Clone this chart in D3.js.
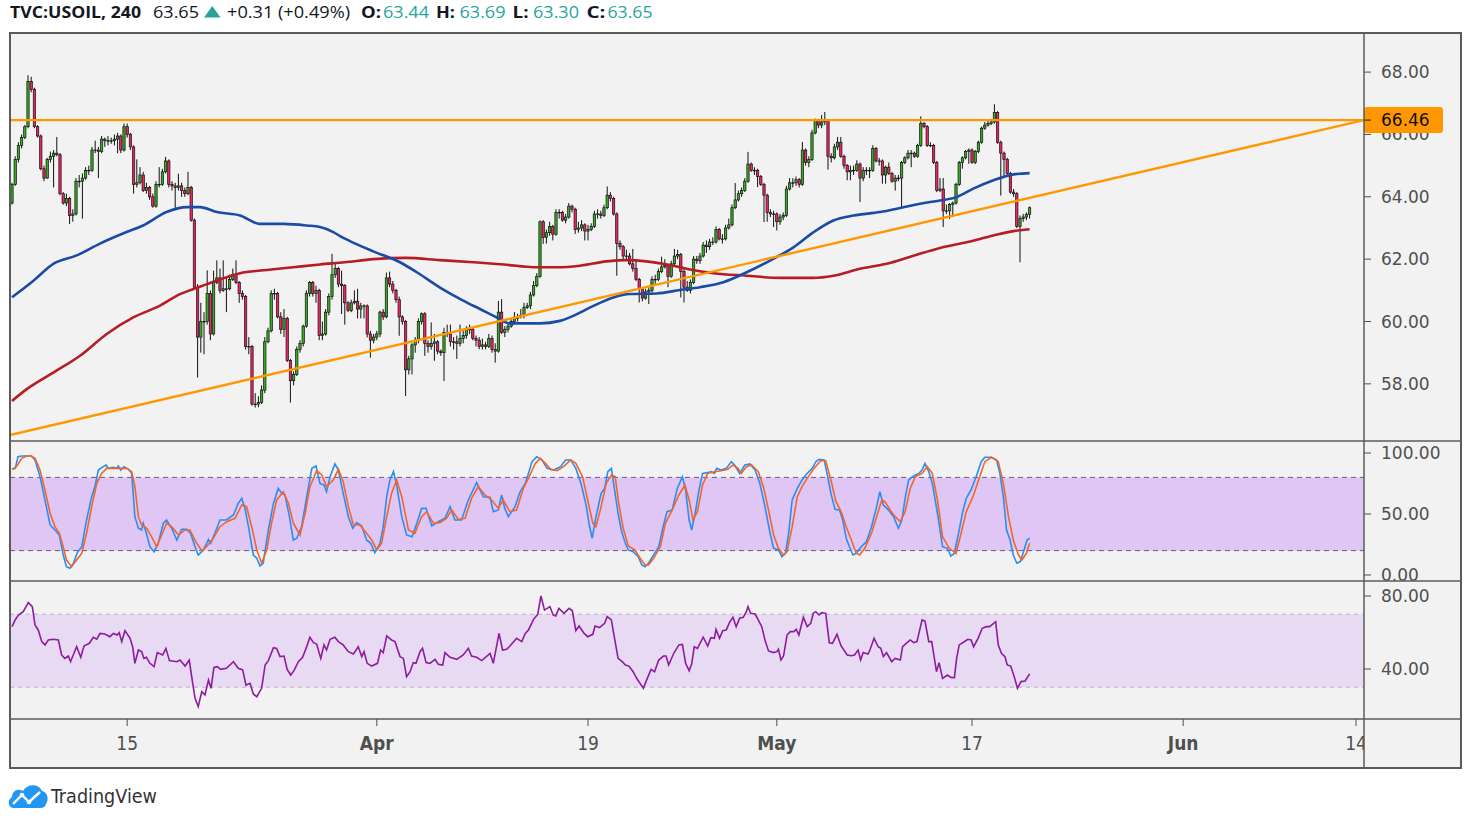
<!DOCTYPE html>
<html lang="en">
<head>
<meta charset="UTF-8">
<title>TVC:USOIL, 240</title>
<script src="https://d3js.org/d3.v7.min.js"></script>
<style>
  body { margin: 0; background: #fff; }
  svg { display: block; }
</style>
</head>
<body>
<div id="chart"></div>
<script>
// ---- data (bar index = 4h bar, 0 = first visible bar) ----
const opens = [
  63.8, 64.4, 65.2, 65.65, 65.9, 66.25, 67.7, 67.45, 66.25, 65.95,
  64.9, 64.6, 65.2, 65.3, 65.4, 65.35, 64.1, 63.8, 63.95, 63.4,
  63.45, 64.5, 64.5, 64.6, 64.85, 64.85, 65.5, 65.5, 65.45, 65.85,
  65.8, 65.8, 65.8, 65.85, 65.95, 65.5, 66.25, 66.0, 65.6, 64.4,
  64.45, 64.7, 64.2, 64.3, 64.0, 63.7, 64.4, 64.4, 64.8, 65.15,
  64.4, 64.35, 64.3, 64.35, 64.2, 64.1, 64.3, 63.25, 61.1, 59.5,
  60.0, 60.0, 60.9, 59.6, 61.25, 61.4, 61.0, 61.05, 61.05, 61.35,
  61.5, 61.25, 60.9, 60.8, 59.2, 59.2, 57.35, 57.35, 57.4, 57.8,
  59.35, 59.7, 60.9, 60.9, 60.15, 59.75, 60.1, 58.75, 58.1, 58.3,
  59.1, 59.3, 59.85, 60.9, 61.25, 60.9, 61.0, 59.55, 59.6, 60.3,
  60.8, 61.5, 61.7, 61.2, 61.15, 60.6, 60.35, 60.6, 60.65, 60.4,
  60.5, 60.5, 59.6, 59.4, 59.5, 59.6, 60.3, 60.15, 61.4, 61.2,
  61.0, 60.7, 60.15, 60.0, 58.45, 58.8, 59.25, 59.4, 60.0, 60.25,
  59.3, 59.2, 59.3, 59.35, 59.05, 59.0, 59.65, 59.6, 59.35, 59.35,
  59.3, 59.45, 59.55, 59.75, 59.75, 59.45, 59.4, 59.2, 59.25, 59.2,
  59.45, 59.1, 59.05, 60.3, 59.65, 59.75, 59.85, 60.0, 60.1, 60.15,
  60.2, 60.45, 60.5, 60.85, 61.15, 61.45, 63.2, 62.7, 62.85, 63.05,
  62.8, 63.5, 63.5, 63.25, 63.35, 63.7, 63.6, 62.95, 63.0, 63.1,
  62.9, 62.95, 63.05, 63.45, 63.45, 63.4, 63.65, 64.05, 63.95, 63.45,
  62.5, 62.4, 62.1, 62.1, 61.85, 61.7, 61.35, 61.05, 60.75, 60.95,
  61.0, 61.35, 61.35, 61.6, 61.75, 61.8, 61.45, 61.85, 62.1, 62.15,
  61.6, 61.1, 61.0, 61.25, 62.0, 61.95, 62.1, 62.45, 62.4, 62.55,
  62.55, 62.95, 62.65, 62.65, 63.0, 63.1, 63.65, 63.9, 64.1, 64.2,
  64.5, 65.05, 64.85, 64.85, 64.65, 64.4, 64.05, 63.5, 63.45, 63.45,
  63.2, 63.35, 63.4, 64.25, 64.45, 64.45, 64.55, 64.4, 65.5, 65.1,
  65.2, 66.05, 66.45, 66.3, 66.4, 66.45, 65.3, 65.25, 65.6, 65.75,
  65.3, 65.0, 64.8, 64.85, 64.85, 65.05, 64.6, 64.85, 64.85, 64.85,
  65.55, 65.15, 65.15, 64.7, 64.95, 64.75, 64.5, 64.6, 64.6, 65.1,
  65.25, 65.4, 65.4, 65.3, 65.65, 66.35, 66.25, 65.65, 65.65, 65.1,
  64.2, 64.25, 63.55, 63.55, 63.75, 63.8, 64.4, 65.1, 65.25, 65.45,
  65.5, 65.1, 65.45, 65.75, 66.2, 66.3, 66.35, 66.4, 66.7, 65.75,
  65.4, 65.2, 64.75, 64.15, 64.1, 63.05, 63.3, 63.35, 63.44
];
const highs = [
  64.45, 65.3, 65.75, 66.0, 66.3, 67.9, 67.85, 67.5, 66.3, 66.0,
  65.0, 65.25, 65.45, 65.5, 65.92, 65.4, 64.15, 64.1, 64.0, 63.6,
  64.6, 64.7, 64.75, 64.95, 65.0, 65.6, 65.8, 65.6, 65.95, 65.9,
  65.95, 65.9, 66.0, 66.05, 66.0, 66.35, 66.35, 66.05, 65.65, 65.2,
  64.95, 64.8, 64.45, 64.35, 64.1, 64.5, 64.95, 64.9, 65.28, 65.2,
  64.5, 64.45, 64.74, 64.45, 64.3, 64.8, 64.35, 63.3, 61.2, 60.6,
  60.3, 61.64, 61.0, 61.63, 61.96, 61.7, 61.96, 61.4, 61.5, 61.7,
  61.96, 61.3, 61.0, 60.85, 59.5, 59.25, 57.7, 57.6, 57.95, 59.5,
  59.8, 61.0, 61.05, 60.95, 60.3, 60.4, 60.15, 58.8, 58.4, 59.2,
  59.4, 59.9, 61.0, 61.3, 61.3, 61.15, 61.05, 60.0, 60.4, 60.9,
  62.17, 61.85, 61.75, 61.63, 61.2, 60.65, 60.7, 61.0, 61.05, 60.6,
  60.55, 60.55, 59.7, 59.6, 59.7, 60.35, 60.4, 61.57, 61.6, 61.3,
  61.05, 60.8, 60.2, 60.05, 58.9, 59.3, 59.5, 60.1, 60.29, 60.3,
  59.4, 59.97, 59.6, 59.4, 59.1, 59.8, 59.9, 59.9, 59.5, 59.55,
  59.9, 59.7, 59.85, 59.9, 59.8, 59.55, 59.5, 59.45, 59.35, 59.6,
  59.55, 59.3, 60.66, 60.72, 59.85, 59.95, 60.1, 60.3, 60.25, 60.4,
  60.6, 60.6, 60.95, 61.3, 61.55, 63.24, 63.25, 62.95, 63.2, 63.1,
  63.6, 63.6, 63.55, 63.45, 63.8, 63.75, 63.65, 63.2, 63.25, 63.15,
  63.1, 63.15, 63.55, 63.6, 63.55, 63.75, 64.33, 64.15, 64.0, 63.5,
  62.6, 62.45, 62.3, 62.2, 62.33, 62.0, 61.4, 61.1, 61.05, 61.1,
  61.45, 61.5, 61.7, 62.08, 62.0, 61.85, 61.95, 62.33, 62.3, 62.2,
  61.7, 61.3, 61.35, 62.1, 62.1, 62.2, 62.55, 62.6, 62.65, 62.7,
  63.05, 63.0, 62.8, 63.1, 63.3, 63.75, 64.44, 64.2, 64.3, 64.6,
  65.44, 65.1, 64.95, 64.9, 64.7, 64.45, 64.1, 63.6, 63.55, 63.5,
  63.45, 63.5, 64.35, 64.6, 64.6, 64.65, 64.6, 65.76, 65.55, 65.3,
  66.15, 66.51, 66.5, 66.62, 66.72, 66.5, 65.4, 65.7, 65.92, 65.92,
  65.35, 65.05, 65.0, 65.0, 65.17, 65.1, 64.95, 64.95, 64.95, 65.65,
  65.6, 65.25, 65.2, 65.0, 65.1, 64.8, 64.7, 64.7, 65.15, 65.3,
  65.5, 65.5, 65.45, 65.7, 66.58, 66.4, 66.3, 65.75, 65.7, 65.15,
  64.6, 64.6, 63.75, 63.8, 63.85, 64.45, 65.15, 65.3, 65.5, 65.55,
  65.55, 65.5, 65.8, 66.25, 66.4, 66.45, 66.5, 66.97, 66.75, 65.8,
  65.45, 65.25, 64.8, 64.25, 64.15, 63.4, 63.45, 63.5, 63.69
];
const lows = [
  63.75, 64.35, 65.1, 65.55, 65.85, 66.2, 67.35, 66.2, 65.9, 64.85,
  64.5, 64.58, 65.1, 64.3, 65.3, 64.05, 63.75, 63.7, 63.13, 63.2,
  63.4, 64.3, 63.3, 64.55, 64.7, 64.8, 65.4, 64.6, 65.4, 65.6,
  65.65, 65.7, 65.65, 65.4, 65.4, 65.45, 65.9, 65.5, 64.1, 64.3,
  64.4, 64.15, 64.1, 63.9, 63.65, 63.65, 64.3, 64.35, 64.75, 64.3,
  64.2, 63.62, 64.2, 64.0, 64.0, 64.05, 63.2, 61.05, 58.2, 59.0,
  58.95, 59.9, 59.4, 59.55, 61.2, 60.9, 60.95, 60.3, 61.0, 61.3,
  61.2, 60.6, 60.7, 59.1, 58.95, 57.3, 57.24, 57.25, 57.35, 57.7,
  59.3, 59.65, 60.7, 60.1, 59.6, 59.5, 58.7, 57.4, 57.95, 58.25,
  59.0, 59.2, 59.8, 60.8, 60.8, 60.6, 59.4, 59.4, 59.55, 60.2,
  60.7, 61.4, 61.1, 60.24, 59.9, 60.3, 60.3, 60.55, 60.1, 60.1,
  60.1, 59.49, 58.84, 59.3, 59.4, 59.5, 60.05, 60.1, 61.1, 60.9,
  60.6, 59.54, 59.9, 57.61, 58.3, 58.3, 59.0, 59.3, 59.9, 58.9,
  59.0, 59.1, 58.74, 58.95, 58.9, 58.09, 59.5, 59.2, 59.1, 58.8,
  59.2, 59.3, 59.45, 59.6, 59.4, 59.2, 59.11, 59.1, 59.11, 59.15,
  59.0, 58.68, 59.0, 59.6, 59.5, 59.65, 59.8, 59.9, 60.0, 60.1,
  60.1, 60.4, 60.4, 60.8, 61.1, 61.4, 62.49, 62.5, 62.75, 62.6,
  62.75, 63.3, 63.2, 63.15, 63.3, 63.5, 62.81, 62.85, 62.9, 62.6,
  62.6, 62.9, 63.0, 63.3, 63.3, 63.35, 63.6, 63.85, 63.4, 61.47,
  62.3, 62.0, 61.95, 61.8, 61.6, 61.3, 60.61, 60.65, 60.7, 60.56,
  60.9, 61.2, 61.3, 61.55, 61.7, 61.1, 61.4, 61.8, 62.0, 60.77,
  60.61, 60.95, 60.9, 61.2, 61.85, 61.85, 62.05, 62.2, 62.3, 62.45,
  62.5, 62.6, 62.5, 62.6, 62.95, 63.05, 63.6, 63.85, 64.0, 64.15,
  64.45, 64.8, 64.7, 64.31, 64.35, 63.19, 63.2, 63.35, 63.03, 62.92,
  63.1, 63.25, 63.35, 64.2, 64.3, 64.35, 64.3, 64.35, 65.0, 64.95,
  65.15, 66.0, 66.2, 66.2, 66.3, 64.87, 65.1, 65.2, 65.5, 65.25,
  64.9, 64.53, 64.53, 64.7, 64.8, 63.83, 64.5, 64.7, 64.6, 64.8,
  65.1, 65.0, 64.42, 64.42, 64.7, 64.45, 64.2, 64.5, 63.62, 65.05,
  65.2, 64.95, 65.25, 65.25, 65.6, 66.2, 65.6, 65.6, 65.05, 64.15,
  64.15, 63.03, 63.45, 63.29, 63.35, 63.75, 64.35, 64.9, 65.2, 65.06,
  65.06, 65.05, 65.4, 65.7, 66.15, 66.25, 66.3, 66.35, 65.7, 64.04,
  64.63, 64.7, 64.1, 64.0, 63.0, 61.9, 63.2, 63.25, 63.3
];
const closes = [
  64.4, 65.2, 65.65, 65.9, 66.25, 67.7, 67.45, 66.25, 65.95, 64.9,
  64.6, 65.2, 65.3, 65.4, 65.35, 64.1, 63.8, 63.95, 63.4, 63.45,
  64.5, 64.5, 64.6, 64.85, 64.85, 65.5, 65.5, 65.45, 65.85, 65.8,
  65.8, 65.8, 65.85, 65.95, 65.5, 66.25, 66.0, 65.6, 64.4, 64.45,
  64.7, 64.2, 64.3, 64.0, 63.7, 64.4, 64.4, 64.8, 65.15, 64.4,
  64.35, 64.3, 64.35, 64.2, 64.1, 64.3, 63.25, 61.1, 59.5, 60.0,
  60.0, 60.9, 59.6, 61.25, 61.4, 61.0, 61.05, 61.05, 61.35, 61.5,
  61.25, 60.9, 60.8, 59.2, 59.2, 57.35, 57.35, 57.4, 57.8, 59.35,
  59.7, 60.9, 60.9, 60.15, 59.75, 60.1, 58.75, 58.1, 58.3, 59.1,
  59.3, 59.85, 60.9, 61.25, 60.9, 61.0, 59.55, 59.6, 60.3, 60.8,
  61.5, 61.7, 61.2, 61.15, 60.6, 60.35, 60.6, 60.65, 60.4, 60.5,
  60.5, 59.6, 59.4, 59.5, 59.6, 60.3, 60.15, 61.4, 61.2, 61.0,
  60.7, 60.15, 60.0, 58.45, 58.8, 59.25, 59.4, 60.0, 60.25, 59.3,
  59.2, 59.3, 59.35, 59.05, 59.0, 59.65, 59.6, 59.35, 59.35, 59.3,
  59.45, 59.55, 59.75, 59.75, 59.45, 59.4, 59.2, 59.25, 59.2, 59.45,
  59.1, 59.05, 60.3, 59.65, 59.75, 59.85, 60.0, 60.1, 60.15, 60.2,
  60.45, 60.5, 60.85, 61.15, 61.45, 63.2, 62.7, 62.85, 63.05, 62.8,
  63.5, 63.5, 63.25, 63.35, 63.7, 63.6, 62.95, 63.0, 63.1, 62.9,
  62.95, 63.05, 63.45, 63.45, 63.4, 63.65, 64.05, 63.95, 63.45, 62.5,
  62.4, 62.1, 62.1, 61.85, 61.7, 61.35, 61.05, 60.75, 60.95, 61.0,
  61.35, 61.35, 61.6, 61.75, 61.8, 61.45, 61.85, 62.1, 62.15, 61.6,
  61.1, 61.0, 61.25, 62.0, 61.95, 62.1, 62.45, 62.4, 62.55, 62.55,
  62.95, 62.65, 62.65, 63.0, 63.1, 63.65, 63.9, 64.1, 64.2, 64.5,
  65.05, 64.85, 64.85, 64.65, 64.4, 64.05, 63.5, 63.45, 63.45, 63.2,
  63.35, 63.4, 64.25, 64.45, 64.45, 64.55, 64.4, 65.5, 65.1, 65.2,
  66.05, 66.45, 66.3, 66.4, 66.45, 65.3, 65.25, 65.6, 65.75, 65.3,
  65.0, 64.8, 64.85, 64.85, 65.05, 64.6, 64.85, 64.85, 64.85, 65.55,
  65.15, 65.15, 64.7, 64.95, 64.75, 64.5, 64.6, 64.6, 65.1, 65.25,
  65.4, 65.4, 65.3, 65.65, 66.35, 66.25, 65.65, 65.65, 65.1, 64.2,
  64.25, 63.55, 63.55, 63.75, 63.8, 64.4, 65.1, 65.25, 65.45, 65.5,
  65.1, 65.45, 65.75, 66.2, 66.3, 66.35, 66.4, 66.7, 65.75, 65.4,
  65.2, 64.75, 64.15, 64.1, 63.05, 63.3, 63.35, 63.44, 63.65
];

// moving averages, [bar, price]
const maBlue = [
  [0, 60.78], [6.7, 61.31], [12.9, 61.85], [20.2, 62.12], [27.5, 62.5], [35.8, 62.87],
  [41, 63.08], [48.3, 63.51], [54.6, 63.67], [58.75, 63.67], [64, 63.51], [71.25, 63.4],
  [77.5, 63.13], [84.8, 63.13], [92.1, 63.08], [96.25, 63.03], [100.4, 62.87], [102.5, 62.74],
  [105.6, 62.58], [112.9, 62.25], [121.25, 61.9], [126.5, 61.58], [133.75, 61.09], [141, 60.67],
  [146.25, 60.4], [151.5, 60.13], [155.6, 59.94], [165, 59.94], [171.25, 60.02], [175.4, 60.18],
  [181.7, 60.5], [187.9, 60.77], [193.1, 60.88], [201.5, 60.9], [208.75, 61.01], [215, 61.1],
  [222.3, 61.26], [229.6, 61.58], [237.9, 62.01], [244.2, 62.38], [250.4, 62.86], [256.7, 63.24],
  [263, 63.4], [271.25, 63.51], [277.5, 63.64], [283.75, 63.78], [290, 63.88], [295.2, 63.99],
  [300.4, 64.26], [306.7, 64.53], [313, 64.72], [318, 64.76]
];
const maRed = [
  [0, 57.45], [4.6, 57.83], [12.9, 58.36], [21.25, 58.9], [29.6, 59.6], [37.9, 60.13],
  [46.25, 60.51], [52.5, 60.88], [56.7, 61.04], [63.9, 61.31], [71.25, 61.55], [79.6, 61.65],
  [87.9, 61.74], [96.25, 61.83], [104, 61.9], [112.9, 62.0], [123.3, 62.04], [133.75, 61.97],
  [144.2, 61.9], [154.6, 61.82], [163, 61.74], [170.2, 61.74], [177.5, 61.79], [185.8, 61.93],
  [192, 61.97], [198.3, 61.93], [206.7, 61.79], [211.9, 61.67], [219.2, 61.55], [229.6, 61.47],
  [240, 61.4], [250.4, 61.4], [256.7, 61.47], [265, 61.69], [273.3, 61.85], [281.7, 62.11],
  [290, 62.36], [298.3, 62.54], [306.7, 62.76], [313, 62.9], [318, 62.96]
];

// drawn lines: horizontal resistance and rising trendline [bar, price]
const levelPrice = 66.46;
const trendPts = [[-0.625, 56.36], [422.5, 66.46]];

// stochastic RSI %K and %D, [bar, value]
const stochK = [
  [0,86.6],[1,87.4],[1.9,97],[3,97.5],[4.5,97.5],[6,97.5],[7.2,94.3],[8.75,80.6],[10.3,61.5],[11.9,41],
  [13.4,36.9],[14.8,32.8],[16,16.4],[17,6.8],[18.1,5.5],[19.2,9.6],[20.4,18.3],[21.8,23.2],[23.3,45.1],[24.9,64.2],
  [25.9,72.4],[27,86],[28.5,88.8],[29.4,90.2],[30.1,87.4],[31.7,88.3],[32.7,87.4],[33.2,89.3],[34,86],[35,88.8],
  [36.4,86.6],[37.4,83.3],[38.4,47.8],[39.5,38.3],[40.5,36.9],[41,42.4],[42,34.2],[43.1,23.2],[44.4,19.1],[45.7,26],
  [47.3,42.4],[48.3,45.1],[49.9,38.3],[51.5,28.7],[53,37.4],[54.6,37.4],[55.8,34.2],[57.2,23.2],[58.2,16.4],[59.8,20.5],
  [61.4,29.2],[62.1,26],[63.4,34.2],[65,45.1],[67,45.1],[69.2,49.2],[70.7,58.7],[71.8,62.8],[72.8,54.6],[73.9,39.6],
  [75.4,16.4],[76.5,13.7],[77.5,7.4],[78.5,9.6],[80.1,36.9],[81.7,58.7],[83.2,71],[84.3,66.9],[85.3,65.6],[86.7,47.8],
  [87.9,28.7],[89,30.1],[90.5,39.6],[92.1,64.2],[93.7,87.4],[95,89.3],[96.25,75.1],[97.5,73.8],[98.3,68.3],[99.4,80.6],
  [100.9,91],[102,86],[103.5,66.9],[105.1,47.8],[106.5,38.3],[107.7,42.9],[109.3,40.2],[110.8,28.7],[112.1,26],[113.4,18.3],
  [115,26],[116,39.6],[117.1,64.2],[118.1,77.9],[119.2,84.7],[120.2,73.8],[121.8,47.8],[123.3,32.8],[125,31.4],[126.5,42.4],
  [128,54.6],[129.4,54.6],[131.2,40.2],[133.2,43.7],[135.3,46.5],[136.9,56],[138.4,45.1],[140.5,45.1],[142.6,61.5],[145.2,75.7],
  [147.3,64.2],[149.4,63.7],[150.4,51.9],[152,53.3],[153,65.6],[154,54.6],[155.1,47.8],[157.2,56],[158.8,68.3],[160.4,75.1],
  [161.4,83.3],[162.5,92.9],[164,97],[165.6,94.3],[167.2,87.4],[169.3,86],[171.4,88.8],[173,94.3],[174.6,94.3],[176.2,87.4],
  [177.8,75.1],[179.4,57.4],[180.4,41],[181.3,30.1],[182.5,47.8],[184.1,66.9],[185.2,71],[186.2,84.7],[187.3,87.4],[188.3,69.7],
  [189.4,50.6],[190.4,36.9],[191.5,27.3],[192.6,20.5],[194.1,19.1],[195.7,15],[196.8,8.2],[197.8,6.8],[198.9,9.6],[200.5,16.4],
  [202.1,23.2],[203.6,41],[204.7,51.9],[206.3,53.3],[207.9,71],[209.5,80.6],[210.5,69.7],[211.6,45.1],[212.4,36.9],[213.5,50.6],
  [214.7,69.7],[215.8,83.3],[217.4,83.9],[218.4,84.7],[219.5,83.3],[220.2,87.4],[221.6,86],[223.2,87.4],[224.8,92.9],[225.8,90.2],
  [227.4,83.3],[229,90.2],[230.6,91],[232.2,86],[233.7,75.1],[235.3,56],[236.9,34.2],[238,21.9],[239.5,20.5],[240.6,15],
  [241.7,17.8],[242.7,34.2],[243.8,61.5],[245.4,71],[246.9,77.9],[248.5,83.3],[250.1,87.4],[251.2,92.9],[252.2,94.8],[253.8,94.3],
  [254.9,80.6],[255.9,66.9],[257.2,53.8],[258.6,53.3],[259.6,45.1],[260.7,30.1],[261.7,23.2],[262.8,16.4],[263.8,17.8],[265.4,23.2],
  [267,27.3],[268.6,39.6],[270.2,56],[271.2,68.3],[272.3,57.4],[273.9,53.3],[275.5,47.8],[277,38.3],[278.1,45.1],[279.1,62.8],
  [280.2,77.9],[281.8,81.2],[283.4,83.3],[284.4,86],[285.3,91.5],[286.5,84.7],[287.6,75.1],[289.2,50.6],[290.8,23.2],[292.3,21.9],
  [293.4,15.6],[294.5,17.8],[296,36.9],[297.1,51.9],[298.2,62.8],[299.7,69.7],[301.3,80.6],[302.9,92.9],[304,96.5],[306.1,96.5],
  [307.7,94.3],[308.7,83.3],[309.8,64.2],[310.8,36.9],[311.9,28.7],[312.9,16.4],[314,9.6],[315.1,11],[316.1,19.1],[317.2,28.7],
  [318,30.1]
];
const stochD = [
  [0,86.6],[1.4,88.8],[3,95.6],[4.6,97.5],[6.1,97.5],[7.2,95.6],[8.75,86],[10.3,69.7],[11.9,50.6],[13.4,39.6],
  [14.8,34.2],[16,23.2],[17,12.3],[18.6,6.8],[20.2,12.3],[21.8,17.8],[23.3,34.2],[24.9,56],[26.5,75.1],[28,83.3],
  [29.6,87.4],[31.7,87.4],[33.8,87.4],[35.8,87.4],[37.4,84.7],[38.4,72.4],[39.5,47.8],[40.5,41],[42.1,38.3],[43.6,31.4],
  [45.2,23.2],[46.8,32.8],[48.3,42.4],[49.9,39.6],[52,32.8],[54.1,36.9],[55.6,36.9],[57.7,26],[59.3,20],[60.8,23.2],
  [62.9,30.1],[65,39.6],[67.1,43.7],[69.7,46.5],[71.8,57.4],[73.3,56],[74.9,39.6],[76.5,20.5],[78,9.6],[79.6,20.5],
  [81.1,42.4],[82.7,61.5],[84.8,68.3],[86.4,58.7],[87.9,42.4],[90,32.8],[91.6,50.6],[93.1,72.4],[95.2,85.4],[96.8,82],
  [98.3,72.4],[100.4,77.9],[102,86.6],[103.5,76.5],[105.1,56],[106.7,41],[108.75,41],[110.8,34.2],[112.4,28.7],[114,20.5],
  [115.5,26],[117.1,47.8],[118.6,66.9],[120.2,77.9],[121.8,64.2],[123.9,36.9],[125.9,34.2],[128,47.8],[129.6,51.9],[131.7,42.4],
  [133.75,42.9],[135.8,46.5],[137.4,53.3],[139.5,45.6],[141.6,46.5],[143.6,62.8],[145.7,72.4],[147.8,65.6],[149.9,61.5],[152,54.6],
  [153.5,61.5],[155.6,51.9],[157.7,53.3],[159.8,71],[161.9,82],[163.5,91.5],[165.1,95.6],[166.7,91.5],[168.3,86.6],[170.4,85.5],
  [172.5,89.3],[174.6,94.3],[176.2,91.5],[178.3,80.6],[179.9,61.5],[181.5,42.4],[182.5,39.6],[184.1,56],[185.7,75.1],[187.3,82],
  [188.5,80.6],[189.6,58.7],[191,38.3],[192.6,23.8],[194.7,20.5],[196.3,13.7],[197.8,8.2],[198.9,8.2],[200.5,13.7],[202.6,23.2],
  [204.2,42.4],[206.3,53.3],[208.4,65.6],[210.3,73.8],[211.6,61.5],[212.8,45.1],[214.2,51.9],[215.8,73.8],[217.4,83.3],[219.5,84.7],
  [221.6,85.5],[223.7,86.6],[225.3,90.2],[226.9,87.4],[227.9,83.3],[229.5,88.8],[231.1,90.2],[233.2,84.7],[234.8,72.4],[236.4,53.3],
  [238,32.8],[239.5,21.9],[241.1,16.4],[242.2,19.1],[243.8,39.6],[245.4,64.2],[246.9,72.4],[248.5,79.2],[250.6,87.4],[252.7,93.7],
  [254.3,93.7],[255.9,77.9],[257.5,60.1],[259.1,51.9],[260.7,39.6],[262.3,28.7],[263.8,17.8],[264.9,16.4],[266.5,21.9],[268.6,34.2],
  [270.2,47.8],[271.8,61.5],[272.8,60.1],[274.4,53.3],[276,47.8],[277.6,43.7],[279.1,51.9],[280.7,71],[282.3,80.6],[284.4,83.3],
  [286,88.8],[287.6,83.3],[289.2,61.5],[290.8,31.4],[292.9,21.9],[295,17.8],[296.6,34.2],[298.2,51.9],[300.3,64.2],[302.4,80.6],
  [304,92.9],[306.1,96.5],[308.2,92.9],[309.8,75.1],[311.4,47.8],[312.9,28.7],[314.5,16.4],[315.6,12.3],[317,17.8],[318,26]
];

// RSI, [bar, value]
const rsi = [
  [0,63.2],[1,66.9],[2,69.6],[3.5,71.4],[5.1,76.4],[6.35,74.2],[7.2,64.1],[8.2,61.4],[9.3,55],[10.3,53.2],
  [11.35,55.9],[12.9,56.3],[14.5,55.9],[15.5,47.7],[16.5,45.8],[17.6,47.1],[18.3,44],[20.2,52.2],[21.5,46.4],[22.5,52.6],
  [24.2,54.1],[25.4,57.4],[26.5,56.3],[27.5,59.5],[29,59.2],[30.6,57.7],[31.7,59.5],[32.9,58.6],[33.5,59.9],[34.3,55],
  [35.3,61],[36.9,56.8],[37.7,52.2],[38.4,43.1],[39.5,50.4],[40.5,49.5],[41.25,45.8],[42,46.4],[43.1,43.1],[44.4,41.3],
  [45.4,49],[47.1,47.7],[48.1,51.3],[49.2,44.6],[51.5,44],[52.5,44.9],[54.1,41.6],[55.4,44.9],[56.15,35.8],[57.2,23.9],
  [58.2,19.4],[59.3,27.6],[60.3,25.8],[61.4,34],[62.2,29.4],[63.1,40.9],[64.2,41.3],[65.2,39.8],[67,40.4],[69.2,44],
  [70.7,40.4],[72.1,39.5],[73.1,31.2],[74.4,32.2],[75.4,26.3],[76.5,24.8],[78,29.4],[79.1,42.2],[80.1,44.6],[81.7,51.7],
  [82.7,51.3],[83.75,46.8],[85,47.1],[86,39.8],[87.1,36.7],[88.1,39.1],[89.5,44],[90.8,46.4],[91.9,51.3],[93.1,57.4],
  [94.2,54.4],[95.2,53.7],[96.5,45.8],[97.5,53.2],[98.3,50.4],[99.4,56.3],[100.9,57.4],[102,55],[103.5,53.2],[105.1,49.5],
  [106.7,48.2],[108.2,52.2],[109.3,46.8],[110,49.5],[111,43.1],[112.4,41.6],[114.2,43.1],[115.2,50.4],[116,49],[117.1,58.1],
  [118.6,55.9],[119.7,55],[121.25,46.8],[122.3,45.8],[123.3,35.8],[124.4,38.5],[125.4,43.5],[126.25,43.1],[127.5,49.5],[128.3,51.3],
  [129.4,43.5],[130.6,43.1],[132.2,45.3],[133.2,42.6],[134.6,42.2],[135.3,49],[136.9,46.4],[139,45.3],[141,47.7],[142.6,51.3],
  [143.6,47.1],[145.2,46.4],[146.8,44.6],[149.4,48.6],[150.4,43.1],[152.2,59.5],[153.3,50.4],[154.6,50.8],[155.6,52.6],[157.7,56.8],
  [159.3,55],[160.4,59.5],[161.4,61.4],[163,67.2],[164.3,70],[165.3,80],[166.4,72.3],[168.1,74.2],[169.1,69.6],[169.9,69.1],
  [170.9,73.2],[172.5,70.5],[174.1,73.2],[175.1,71.9],[176.2,61],[177.2,63.6],[178.8,59.5],[179.9,57.7],[181.5,59],[182.2,63.6],
  [183.6,62.7],[185.2,65],[186,68.7],[187.3,66.9],[188.3,56.8],[189.4,45.8],[190.7,44],[191.7,42.2],[192.8,41.6],[194.1,38.5],
  [195.2,34.9],[197.3,29.4],[198.4,34.3],[199.7,39.8],[200.8,38.5],[202.1,44.9],[203.6,47.1],[204.4,47.1],[205.2,42.2],[206.8,48.6],
  [208.4,53.2],[209.5,53.5],[210.5,43.1],[211.6,39.1],[212.4,42.7],[213.2,52.2],[214.2,51.3],[216,57.4],[217.4,52.6],[218.4,57.2],
  [219.5,56.8],[220,61.7],[221.1,56.8],[222.1,61],[223.2,61.4],[224.2,65.4],[225.3,68.3],[226.3,63.2],[227.4,67.8],[228.5,68.3],
  [229.5,71.4],[230,74.2],[230.8,70.5],[232.2,70.1],[233.2,66.9],[234.3,63.2],[235.3,55.9],[236.4,49.9],[238,49],[239,49.5],
  [239.5,50.8],[240.3,44.9],[241.1,47.1],[242.2,58.6],[243.2,60.5],[244.3,60.5],[245.1,61.7],[245.9,58.6],[247.3,68.3],[248.5,63.2],
  [249.6,65],[250.4,70.5],[251.2,71.4],[252.2,69.6],[253,70.9],[254.3,70.5],[255.4,54.4],[256.4,54.1],[257.8,59],[259.1,52.6],
  [261,47.7],[262.3,47.3],[263.3,47.7],[264.4,50.4],[265.2,44.9],[266,49],[267.5,48.2],[268.1,50.4],[269.4,56.8],[270.7,52.2],
  [271.5,51.3],[272.3,46.8],[273.3,49],[274.9,44],[276,45.8],[277.6,44.9],[278.3,52.2],[279.7,54.4],[280.7,55.9],[281.8,54.4],
  [282.8,55],[284.4,66.9],[285.3,66.3],[286.5,55],[287.4,55],[288.9,38.5],[289.7,43.5],[290.8,34.9],[292.3,36.7],[293.4,35.4],
  [294.5,35.3],[295.2,45.8],[296,53.2],[297.1,54.4],[298.7,56.3],[299.7,55.9],[300.5,52.2],[301.9,56.8],[303.2,62.3],[304.5,63.2],
  [305.5,63.2],[307.4,65.9],[308.2,53.2],[309.2,48.6],[310.3,46.8],[311,42.2],[312.1,41.6],[313.2,35.8],[314.2,29.4],[315.3,33.1],
  [316.6,33.4],[318,37.3]
];

// axes
const timeTickIdx = [36, 114, 180, 239, 300, 366, 420];
const timeTickLab = ["15", "Apr", "19", "May", "17", "Jun", "14"];
const monthLabs = ["Apr", "May", "Jun"];
const priceTicks = [58, 60, 62, 64, 66, 68];
const stochTicks = [0, 50, 100];
const stochBand = [20, 80];
const rsiTicks = [40, 80];
const rsiBand = [30, 70];

// header legend
const symbolTxt = "TVC:USOIL, 240";
const lastTxt = "63.65";
const changeTxt = "+0.31 (+0.49%)";
const ohlcLabels = ["O:", "H:", "L:", "C:"];
const ohlcValues = ["63.44", "63.69", "63.30", "63.65"];

// ---- layout ----
const W = 1471, H = 823;
const xLeft = 10, plotRight = 1364, xRight = 1461;
const priceTop = 33, stochTop = 441, rsiTop = 581, timeTop = 719, frameBottom = 768;
const frameCol = "#5b5b5b", axisTxt = "#4f4f4f";
const teal = "#26a69a", orange = "#ff9800";
const axisFont = '"DejaVu Sans", Verdana, sans-serif';
const narrowFont = '"Liberation Sans Narrow", "DejaVu Sans Condensed", "Liberation Sans", Arial, sans-serif';
const headFont = '"Open Sans", "Liberation Sans", Arial, sans-serif';

const svg = d3.select("#chart").append("svg").attr("width", W).attr("height", H);
const defs = svg.append("defs");
function clip(id, x0, y0, x1, y1) {
  defs.append("clipPath").attr("id", id).append("rect")
    .attr("x", x0).attr("y", y0).attr("width", x1 - x0).attr("height", y1 - y0);
}
clip("cPrice", xLeft, priceTop, plotRight, stochTop);
clip("cStoch", xLeft, stochTop, plotRight, rsiTop);
clip("cRsi", xLeft, rsiTop, plotRight, timeTop);
clip("cTime", xLeft, timeTop, plotRight, frameBottom);
clip("cAxP", plotRight, priceTop, xRight, stochTop);
clip("cAxS", plotRight, stochTop, xRight, rsiTop);
clip("cAxR", plotRight, rsiTop, xRight, timeTop);

svg.append("rect").attr("x", xLeft).attr("y", priceTop).attr("width", xRight - xLeft)
  .attr("height", frameBottom - priceTop).attr("fill", "#f2f2f2");

// scales
const x = d3.scaleLinear().domain([-0.625, 422.5]).range([xLeft, plotRight]);
const yP = d3.scaleLinear().domain([56.167, 69.254]).range([stochTop, priceTop]);
const yS = d3.scaleLinear().domain([-4.92, 109.84]).range([rsiTop, stochTop]);
const yR = d3.scaleLinear().domain([12.6, 88.22]).range([timeTop, rsiTop]);

// ---- price pane ----
const gP = svg.append("g").attr("clip-path", "url(#cPrice)");
const idx = d3.range(closes.length);
gP.append("g").selectAll("line").data(idx).join("line")
  .attr("x1", i => x(i)).attr("x2", i => x(i))
  .attr("y1", i => yP(highs[i])).attr("y2", i => yP(lows[i]))
  .attr("stroke", "#111").attr("stroke-width", 1);
gP.append("g").selectAll("rect").data(idx).join("rect")
  .attr("x", i => x(i) - 1.15).attr("width", 2.3)
  .attr("y", i => yP(Math.max(opens[i], closes[i])))
  .attr("height", i => Math.max(0.6, Math.abs(yP(opens[i]) - yP(closes[i]))))
  .attr("fill", i => closes[i] >= opens[i] ? "#34ad1f" : "#f2215f")
  .attr("stroke", "#111").attr("stroke-width", 0.7);

const maLine = d3.line().x(d => x(d[0])).y(d => yP(d[1])).curve(d3.curveMonotoneX);
gP.append("path").datum(maRed).attr("d", maLine).attr("fill", "none")
  .attr("stroke", "#b51d24").attr("stroke-width", 2.6);
gP.append("path").datum(maBlue).attr("d", maLine).attr("fill", "none")
  .attr("stroke", "#1a4ca6").attr("stroke-width", 2.6);

gP.append("line").attr("x1", xLeft).attr("x2", plotRight)
  .attr("y1", yP(levelPrice)).attr("y2", yP(levelPrice))
  .attr("stroke", orange).attr("stroke-width", 2.4);
gP.append("path").datum(trendPts).attr("d", d3.line().x(d => x(d[0])).y(d => yP(d[1])))
  .attr("stroke", orange).attr("stroke-width", 2.4).attr("fill", "none");

// ---- stoch pane ----
const gS = svg.append("g").attr("clip-path", "url(#cStoch)");
gS.append("rect").attr("x", xLeft).attr("width", plotRight - xLeft)
  .attr("y", yS(stochBand[1])).attr("height", yS(stochBand[0]) - yS(stochBand[1]))
  .attr("fill", "#e0c6f4");
gS.selectAll("line.band").data(stochBand).join("line")
  .attr("x1", xLeft).attr("x2", plotRight).attr("y1", d => yS(d)).attr("y2", d => yS(d))
  .attr("stroke", "#6b5a7c").attr("stroke-width", 1).attr("stroke-dasharray", "5,4");
const sLine = d3.line().x(d => x(d[0])).y(d => yS(d[1]));
gS.append("path").datum(stochK).attr("d", sLine).attr("fill", "none")
  .attr("stroke", "#2a8df2").attr("stroke-width", 1.6);
gS.append("path").datum(stochD).attr("d", sLine).attr("fill", "none")
  .attr("stroke", "#f2652a").attr("stroke-width", 1.6);

// ---- rsi pane ----
const gR = svg.append("g").attr("clip-path", "url(#cRsi)");
gR.append("rect").attr("x", xLeft).attr("width", plotRight - xLeft)
  .attr("y", yR(rsiBand[1])).attr("height", yR(rsiBand[0]) - yR(rsiBand[1]))
  .attr("fill", "#e8daf3");
gR.selectAll("line.band").data(rsiBand).join("line")
  .attr("x1", xLeft).attr("x2", plotRight).attr("y1", d => yR(d)).attr("y2", d => yR(d))
  .attr("stroke", "#b9b4bd").attr("stroke-width", 1).attr("stroke-dasharray", "4,4");
gR.append("path").datum(rsi).attr("d", d3.line().x(d => x(d[0])).y(d => yR(d[1])))
  .attr("fill", "none").attr("stroke", "#8d1c9f").attr("stroke-width", 1.6);

// ---- right axes ----
function rightAxis(scale, ticks, clipId, fmt) {
  const g = svg.append("g").attr("clip-path", `url(#${clipId})`);
  g.selectAll("line").data(ticks).join("line")
    .attr("x1", plotRight).attr("x2", plotRight + 7)
    .attr("y1", d => scale(d)).attr("y2", d => scale(d))
    .attr("stroke", axisTxt).attr("stroke-width", 1);
  g.selectAll("text").data(ticks).join("text")
    .attr("x", plotRight + 17).attr("y", d => scale(d) + 6)
    .attr("font-family", axisFont).attr("font-size", 17).attr("fill", axisTxt)
    .text(fmt);
  return g;
}
// the 66.00 label sits behind the level badge, as in the source chart
const axP = rightAxis(yP, priceTicks, "cAxP", d => d.toFixed(2));
rightAxis(yS, stochTicks, "cAxS", d => d.toFixed(2));
rightAxis(yR, rsiTicks, "cAxR", d => d.toFixed(2));

// level badge
axP.append("rect").attr("x", plotRight).attr("y", yP(levelPrice) - 13)
  .attr("width", 79).attr("height", 26).attr("rx", 3).attr("fill", orange);
axP.append("line").attr("x1", plotRight).attr("x2", plotRight + 7)
  .attr("y1", yP(levelPrice)).attr("y2", yP(levelPrice)).attr("stroke", "#222");
axP.append("text").attr("x", plotRight + 17).attr("y", yP(levelPrice) + 6)
  .attr("font-family", axisFont).attr("font-size", 17).attr("fill", "#111")
  .text(levelPrice.toFixed(2));

// ---- time axis ----
const gT = svg.append("g").attr("clip-path", "url(#cTime)");
gT.selectAll("line").data(timeTickIdx).join("line")
  .attr("x1", d => x(d)).attr("x2", d => x(d)).attr("y1", timeTop).attr("y2", timeTop + 7)
  .attr("stroke", axisTxt);
gT.selectAll("text").data(timeTickIdx).join("text")
  .attr("x", d => x(d)).attr("y", 750).attr("text-anchor", "middle")
  .attr("font-family", narrowFont).attr("font-size", 19).attr("fill", axisTxt)
  .attr("font-weight", (d, i) => monthLabs.includes(timeTickLab[i]) ? "bold" : "normal")
  .text((d, i) => timeTickLab[i]);

// ---- frame ----
const fr = svg.append("g").attr("stroke", frameCol).attr("fill", "none");
[stochTop, rsiTop, timeTop].forEach(y => {
  fr.append("line").attr("x1", xLeft).attr("x2", xRight).attr("y1", y).attr("y2", y).attr("stroke-width", 1.5);
});
fr.append("line").attr("x1", plotRight).attr("x2", plotRight).attr("y1", priceTop).attr("y2", frameBottom)
  .attr("stroke-width", 1.5);
fr.append("rect").attr("x", xLeft).attr("y", priceTop).attr("width", xRight - xLeft)
  .attr("height", frameBottom - priceTop).attr("stroke-width", 2);

// ---- header legend ----
const hd = svg.append("g").attr("font-family", headFont).attr("font-size", 16);
function htext(txt, x0, w, col, bold) {
  hd.append("text").attr("x", x0).attr("y", 17.5).attr("fill", col)
    .attr("font-weight", bold ? "bold" : "normal")
    .attr("textLength", w).attr("lengthAdjust", "spacingAndGlyphs").text(txt);
}
htext(symbolTxt, 10, 131, "#131722", true);
htext(lastTxt, 153, 46, "#131722", false);
hd.append("path").attr("d", "M204,17.5 L220.5,17.5 L212.3,6 Z").attr("fill", teal);
htext(changeTxt, 227, 123, "#131722", false);
const ohlcX = [[361, 20, 383, 46], [436, 19, 459.5, 46], [512.5, 16, 533, 46], [586.5, 19, 607.5, 45]];
ohlcLabels.forEach((lab, i) => {
  const p = ohlcX[i];
  htext(lab, p[0], p[1], "#131722", true);
  htext(ohlcValues[i], p[2], p[3], teal, false);
});

// ---- logo ----
const lg = svg.append("g");
lg.append("path")
  .attr("d", "M14,808 C8,808 7,800 12,797 C12,791 18,788 23,791 C27,784 38,783 42,791 C48,792 49,800 46,804 C45,807 43,808 40,808 Z")
  .attr("fill", "#2196f3");
lg.append("path").attr("d", "M13,804 L22,795 L29,802 L40,792")
  .attr("stroke", "#fff").attr("stroke-width", 2.4).attr("fill", "none");
lg.append("circle").attr("cx", 22).attr("cy", 795).attr("r", 2.3).attr("fill", "#fff");
lg.append("circle").attr("cx", 29).attr("cy", 802).attr("r", 2.3).attr("fill", "#fff");
lg.append("text").attr("x", 51).attr("y", 803).attr("font-family", narrowFont).attr("font-size", 20)
  .attr("fill", "#333").attr("textLength", 106).attr("lengthAdjust", "spacingAndGlyphs").text("TradingView");
</script>
</body>
</html>
